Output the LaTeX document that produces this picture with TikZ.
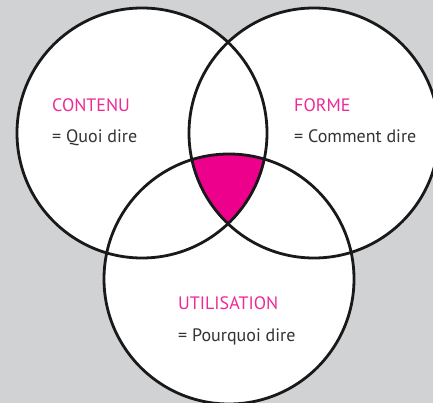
\documentclass[tikz,border=0pt]{standalone}
\usepackage{fontspec}
\setmainfont{PT Sans}
\definecolor{bg}{HTML}{D1D2D4}
\definecolor{mag}{HTML}{EC008C}
\definecolor{magtext}{HTML}{EE2A98}
\definecolor{txt}{HTML}{333333}
\begin{document}
\begin{tikzpicture}[x=1pt,y=-1pt,
  ring/.style={draw=black!90,line width=2.8pt},
  title/.style={anchor=base west,inner sep=0pt,text=magtext,font=\fontsize{18}{20}\selectfont},
  desc/.style={anchor=base west,inner sep=0pt,text=txt,font=\fontsize{18}{20}\selectfont}]
\fill[bg] (0,0) rectangle (433,403);
\useasboundingbox (0,0) rectangle (433,403);
\coordinate (cl) at (142,133);
\coordinate (cr) at (314,133);
\coordinate (cb) at (229,279);
\fill[white] (cl) circle[radius=125];
\fill[white] (cr) circle[radius=125];
\fill[white] (cb) circle[radius=125];
\begin{scope}
\clip (cl) circle[radius=125];
\clip (cr) circle[radius=125];
\fill[mag] (cb) circle[radius=125];
\end{scope}
\draw[ring] (cl) circle[radius=125];
\draw[ring] (cr) circle[radius=125];
\draw[ring] (cb) circle[radius=125];
\node[title] (t1) at (52,112) {CONTENU};
\node[desc] (d1) at (52,143) {= Quoi dire};
\node[title] (t2) at (294,112) {FORME};
\node[desc] (d2) at (294,143) {= Comment dire};
\node[title] (t3) at (178,309) {UTILISATION};
\node[desc] (d3) at (178,341) {= Pourquoi dire};
\end{tikzpicture}
\end{document}
